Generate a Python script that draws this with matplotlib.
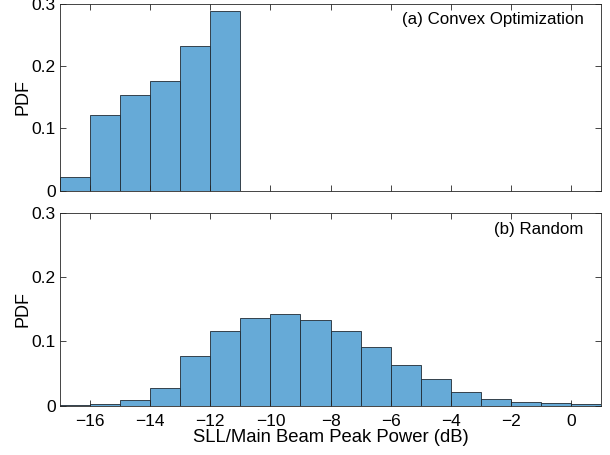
import matplotlib.pyplot as plt
import numpy as np

plt.rcParams['font.family'] = ['Liberation Sans', 'DejaVu Sans']

# bin edges (dB) and PDF values
edges_a = [-17, -16, -15, -14, -13, -12, -11]
pdf_a = [0.0216, 0.122, 0.154, 0.177, 0.233, 0.289]

edges_b = list(range(-17, 2))
pdf_b = [0.0005, 0.0022, 0.0084, 0.027, 0.077, 0.117, 0.137, 0.142, 0.134,
         0.117, 0.091, 0.064, 0.041, 0.022, 0.0104, 0.0058, 0.0037, 0.002]

xticks = [-16, -14, -12, -10, -8, -6, -4, -2, 0]
yticks = [0, 0.1, 0.2, 0.3]
ytick_labels = ['0', '0.1', '0.2', '0.3']

face = '#66aad7'
axcol = '#262626'

fig = plt.figure(figsize=(6.1, 4.55), dpi=100)
ax1 = fig.add_axes([60/610, 1 - 190.7/455, 541/610, 186.7/455])
ax2 = fig.add_axes([60/610, 1 - 405.7/455, 541/610, 192.7/455])

for ax, edges, pdf, label in [(ax1, edges_a, pdf_a, '(a) Convex Optimization'),
                              (ax2, edges_b, pdf_b, '(b) Random')]:
    e = np.array(edges)
    ax.bar(e[:-1], pdf, width=np.diff(e), align='edge', color=face,
           edgecolor='#1f2a33', linewidth=0.6)
    ax.set_xlim(-17, 1)
    ax.set_ylim(0, 0.3)
    ax.set_xticks(xticks)
    ax.set_yticks(yticks)
    ax.set_yticklabels(ytick_labels)
    ax.set_ylabel('PDF', fontsize=13, color='black', labelpad=0)
    ax.tick_params(direction='in', top=True, right=True, length=4,
                   width=0.6, colors=axcol, labelsize=12.5, labelcolor='black',
                   pad=3)
    ax.tick_params(axis='x', pad=6)
    for s in ax.spines.values():
        s.set_color(axcol)
        s.set_linewidth(0.6)
    ax.text(0.968, 0.955, label, transform=ax.transAxes, ha='right', va='top',
            fontsize=12.2)

ax1.tick_params(labelbottom=False)
ax2.set_xlabel('SLL/Main Beam Peak Power (dB)', fontsize=13.3, labelpad=0)

plt.savefig('out.png', dpi=100)
